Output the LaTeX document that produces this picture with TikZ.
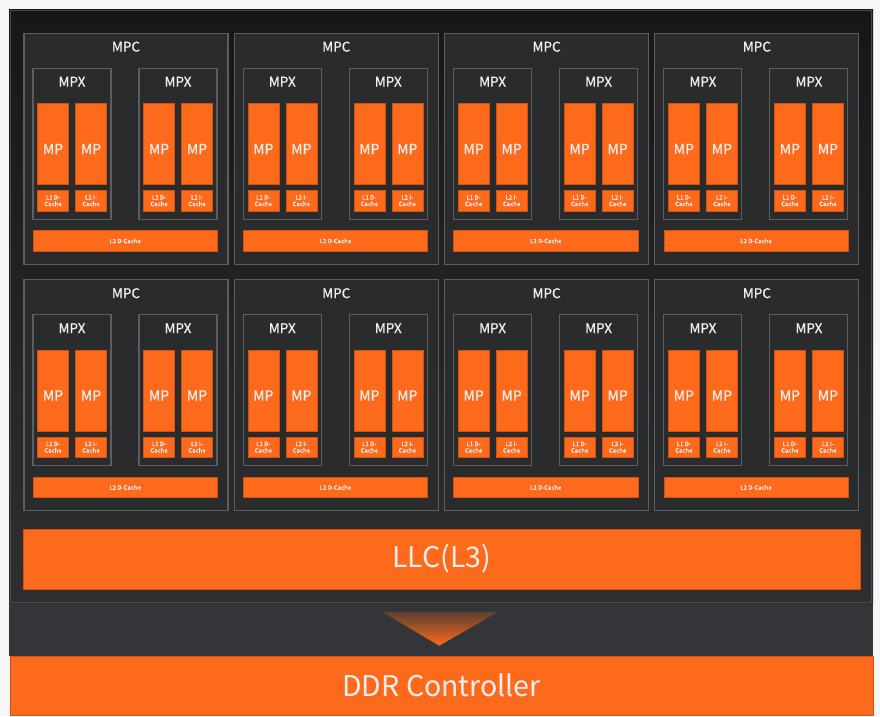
\documentclass[tikz,border=0pt]{standalone}
\usepackage{fontspec}
\setmainfont{Noto Sans CJK SC}
\newfontfamily\medfont{Noto Sans CJK SC}[FakeBold=0.9]
\usetikzlibrary{calc}
\definecolor{org}{HTML}{FD6A1C}
\definecolor{orgedge}{HTML}{CF520E}
\definecolor{boxedge}{HTML}{5C5D60}
\definecolor{mpcfill}{HTML}{2A2B2D}
\definecolor{txt}{HTML}{EEEEEE}
\definecolor{pagebg}{HTML}{F6F6F6}
\definecolor{paneltop}{HTML}{161719}
\definecolor{panelbot}{HTML}{2E2F31}
\definecolor{panelline}{HTML}{4A4B4E}
\definecolor{band}{HTML}{333538}
\begin{document}
\begin{tikzpicture}[x=1pt,y=-1pt,
  box/.style={anchor=north west, inner sep=0pt, outer sep=0pt},
  mpcbox/.style={box, draw=boxedge, line width=1.1pt, fill=mpcfill, minimum width=204pt, minimum height=231pt},
  mpxbox/.style={box, draw=boxedge, line width=1.1pt, fill=mpcfill, minimum width=78pt, minimum height=151pt},
  orgbox/.style={box, draw=orgedge, line width=0.6pt, fill=org, text=txt},
  mpbox/.style={orgbox, minimum width=31pt, minimum height=81.4pt},
  mptext/.style={text=txt, inner sep=0pt, font=\medfont\fontsize{14}{16}\selectfont},
  cachebox/.style={orgbox, minimum width=31pt, minimum height=20.7pt, align=center, font=\medfont\fontsize{6}{6.6}\selectfont},
  l2box/.style={orgbox, minimum width=184.3pt, minimum height=20.3pt, font=\medfont\fontsize{6}{6.6}\selectfont},
  lbl/.style={text=txt, inner sep=0pt, font=\medfont\fontsize{13.5}{15}\selectfont},
  bigbox/.style={orgbox, line width=1pt, font=\fontsize{28.5}{32}\selectfont}
]
\useasboundingbox (0,0) rectangle (880,716);
\fill[pagebg] (0,0) rectangle (880,716);
% upper panel
\shade[top color=paneltop, bottom color=panelbot] (9,9) rectangle (873,604);
\draw[panelline, line width=1pt] (10.8,10.8) rectangle (871.2,602.2);
% lower band
\fill[band] (9,604) rectangle (873,656);
% MPC blocks
\foreach \i in {0,...,3}{
  \foreach \j in {0,1}{
    \pgfmathsetmacro\X{24+210.3*\i}
    \pgfmathsetmacro\Y{33.3+246.5*\j}
    \node[mpcbox] (mpc-\i-\j) at (\X,\Y) {};
    \node[lbl] (mpclbl-\i-\j) at ({\X+102},{\Y+13.4}) {MPC};
    \foreach \k/\mx in {1/9,2/115}{
      \node[mpxbox] (mpx-\i-\j-\k) at ({\X+\mx},{\Y+35}) {};
      \node[lbl] (mpxlbl-\i-\j-\k) at ({\X+\mx+39},{\Y+48.4}) {MPX};
      \node[mpbox] (mpa-\i-\j-\k) at ({\X+\mx+4.5},{\Y+70}) {};
      \node[mptext] (mpatxt-\i-\j-\k) at ([yshift=-5pt]mpa-\i-\j-\k.center) {MP};
      \node[mpbox] (mpb-\i-\j-\k) at ({\X+\mx+42.5},{\Y+70}) {};
      \node[mptext] (mpbtxt-\i-\j-\k) at ([yshift=-5pt]mpb-\i-\j-\k.center) {MP};
      \node[cachebox] (l1-\i-\j-\k) at ({\X+\mx+4.5},{\Y+157}) {L1 D-\\Cache};
      \node[cachebox] (l2i-\i-\j-\k) at ({\X+\mx+42.5},{\Y+157}) {L2 I-\\Cache};
    }
    \node[l2box] (l2d-\i-\j) at ({\X+9},{\Y+197.4}) {L2 D-Cache};
  }
}
% LLC
\node[bigbox, minimum width=837pt, minimum height=60pt] (llc) at (23,529) {LLC(L3)};
% DDR
\node[bigbox, minimum width=863pt, minimum height=59pt] (ddr) at (10,656) {DDR Controller};
% arrow
\shade[top color=band!80!org, bottom color=org] (381.7,611.7) -- (498.3,611.7) -- (439.3,645.7) -- cycle;
\end{tikzpicture}
\end{document}
